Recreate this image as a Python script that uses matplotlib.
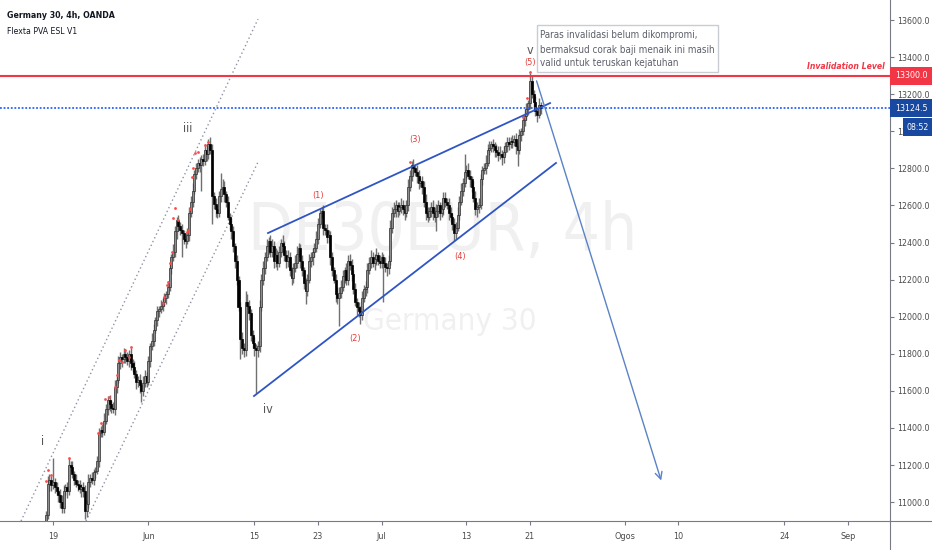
import os
import glob
import matplotlib
matplotlib.use('Agg')
import matplotlib.pyplot as plt
from matplotlib.patches import Rectangle
from matplotlib.lines import Line2D
import matplotlib.transforms as mtrans
from matplotlib import font_manager as fm

# ---------------- data ----------------
# 4h closes, 6 bars per trading day, starting with May 18 (day index -1)
closes = [
    10820, 10870, 10930, 11100, 11120, 11090,
    11110, 11080, 11060, 11040, 11000, 10970,
    11060, 11080, 11060, 11200, 11190, 11150,
    11120, 11100, 11090, 11070, 11080, 11060,
    10950, 10990, 11110, 11130, 11120, 11160,
    11170, 11220, 11370, 11390, 11380, 11440,
    11500, 11550, 11530, 11510, 11500, 11620,
    11660, 11750, 11780, 11770, 11800, 11780,
    11760, 11800, 11750, 11730, 11690, 11650,
    11660, 11630, 11600, 11640, 11680, 11650,
    11760, 11840, 11870, 11930, 11980, 12030,
    12040, 12060, 12080, 12100, 12120, 12160,
    12260, 12320, 12350, 12460, 12520, 12490,
    12470, 12450, 12420, 12410, 12440, 12560,
    12620, 12680, 12770, 12800, 12830, 12820,
    12850, 12840, 12900, 12880, 12930, 12900,
    12650, 12610, 12580, 12560, 12650, 12690,
    12700, 12660, 12620, 12540, 12500, 12460,
    12380, 12300, 12200, 12050, 11880, 11830,
    11820, 12080, 12060, 12020, 11900, 11860,
    11830, 11820, 11840, 12050, 12200, 12260,
    12320, 12380, 12410, 12350, 12380, 12300,
    12330, 12290, 12350, 12400, 12380, 12330,
    12300, 12320, 12250, 12210, 12260, 12290,
    12340, 12370, 12300, 12250, 12180, 12140,
    12200, 12300, 12320, 12350, 12370, 12420,
    12500, 12560, 12570, 12480, 12470, 12430,
    12440, 12320, 12250, 12200, 12120, 12100,
    12130, 12160, 12220, 12250, 12200, 12300,
    12280, 12230, 12150, 12080, 12050, 12030,
    12010, 12100, 12150, 12160, 12250, 12290,
    12320, 12290, 12310, 12330, 12300, 12290,
    12320, 12290, 12270, 12260, 12300, 12480,
    12560, 12580, 12600, 12570, 12590, 12600,
    12580, 12560, 12600, 12700, 12760, 12820,
    12800, 12780, 12760, 12720, 12730, 12700,
    12620, 12560, 12540, 12570, 12590, 12560,
    12540, 12570, 12600, 12560, 12580, 12640,
    12620, 12600, 12560, 12540, 12500, 12450,
    12480, 12550, 12620, 12680, 12720, 12780,
    12790, 12760, 12740, 12700, 12640, 12580,
    12590, 12600, 12740, 12790, 12800, 12830,
    12900, 12910, 12930, 12920, 12900, 12890,
    12870, 12880, 12860, 12890, 12920, 12940,
    12930, 12950, 12940, 12960, 12920, 12900,
    12980, 13000, 13060, 13080, 13120, 13150,
    13270, 13200, 13160, 13110, 13090, 13140,
    13124.5,
]
up_wick = [
    20, 30, 20, 40, 30, 20,   130, 20, 30, 20, 30, 40,
    30, 20, 30, 40, 20, 30,   20, 30, 20, 30, 20, 30,
    30, 20, 40, 20, 30, 20,   20, 30, 30, 20, 30, 40,
    30, 20, 30, 20, 30, 40,   20, 40, 30, 20, 30, 20,
    30, 20, 30, 20, 30, 20,   20, 30, 20, 40, 30, 20,
    30, 20, 40, 30, 20, 30,   20, 30, 20, 30, 20, 30,
    30, 20, 40, 30, 20, 30,   20, 30, 20, 30, 40, 30,
    30, 40, 20, 30, 20, 30,   20, 30, 30, 20, 30, 40,
    30, 20, 30, 20, 30, 85,   40, 30, 20, 30, 20, 30,
    30, 20, 30, 20, 30, 40,   30, 60, 40, 30, 20, 30,
    30, 20, 30, 40, 30, 40,   30, 40, 20, 30, 40, 30,
    40, 30, 30, 20, 40, 30,   30, 40, 30, 20, 30, 40,
    40, 30, 20, 30, 20, 30,   30, 40, 30, 20, 30, 40,
    30, 20, 20, 30, 20, 30,   30, 20, 30, 20, 30, 40,
    30, 40, 30, 20, 40, 30,   40, 30, 20, 30, 20, 30,
    30, 40, 20, 30, 40, 30,   40, 30, 30, 40, 20, 30,
    30, 20, 30, 20, 30, 40,   30, 40, 30, 20, 30, 40,
    30, 20, 30, 40, 30, 20,   30, 20, 40, 30, 20, 30,
    30, 40, 30, 20, 30, 40,   30, 40, 30, 20, 40, 30,
    30, 20, 40, 30, 20, 30,   30, 40, 30, 40, 30, 100,
    30, 40, 30, 20, 30, 40,   30, 40, 30, 20, 30, 40,
    30, 40, 20, 30, 20, 30,   30, 40, 20, 30, 20, 30,
    30, 20, 30, 20, 30, 20,   30, 20, 30, 40, 30, 20,
    45, 30, 20, 30, 20, 40,   20,
]
dn_wick = [
    30, 20, 30, 20, 40, 30,   20, 30, 20, 40, 30, 30,
    30, 20, 40, 20, 30, 20,   30, 20, 30, 20, 40, 30,
    40, 30, 20, 30, 20, 30,   30, 20, 30, 20, 30, 20,
    20, 30, 40, 30, 20, 30,   30, 20, 30, 40, 20, 30,
    20, 30, 40, 30, 20, 40,   30, 40, 60, 30, 20, 30,
    20, 30, 20, 30, 20, 30,   30, 20, 30, 20, 30, 20,
    20, 30, 20, 30, 40, 30,   30, 130, 30, 40, 20, 30,
    20, 30, 20, 30, 20, 40,   140, 30, 20, 40, 30, 20,
    150, 30, 40, 30, 20, 30,  30, 40, 30, 20, 30, 40,
    30, 40, 30, 20, 110, 30,  40, 30, 20, 40, 30, 30,
    40, 230, 40, 30, 20, 30,  30, 20, 40, 30, 30, 40,
    30, 40, 20, 30, 40, 30,   40, 30, 30, 40, 30, 20,
    30, 20, 40, 30, 30, 70,   30, 20, 30, 40, 30, 20,
    30, 20, 30, 40, 30, 30,   30, 40, 30, 20, 40, 30,
    150, 30, 20, 40, 30, 30,  30, 40, 30, 20, 40, 30,
    50, 30, 20, 40, 30, 20,   30, 20, 40, 30, 20, 30,
    30, 210, 30, 40, 30, 20,  30, 20, 40, 30, 20, 30,
    30, 40, 20, 30, 20, 30,   30, 20, 40, 30, 20, 40,
    30, 40, 30, 20, 30, 40,   30, 80, 30, 40, 20, 30,
    30, 20, 40, 30, 30, 40,   30, 20, 30, 20, 30, 20,
    30, 20, 40, 30, 20, 30,   40, 30, 20, 30, 20, 30,
    20, 30, 20, 30, 40, 30,   30, 20, 40, 30, 20, 30,
    30, 20, 30, 20, 40, 90,   20, 30, 20, 30, 20, 30,
    30, 20, 40, 30, 40, 20,   30,
]
first_open = 10780
first_day = -1
bars_per_day = 6

# indicator dots (trading-day position, price)
dot_day = [-0.69, -0.47, -0.19, 1.51, 4.25, 4.5, 4.88, 5.28, 5.85, 6.04, 6.2, 6.5,
           6.76, 7.14, 7.36, 10.38, 10.47, 10.75, 10.85, 11.04, 11.23, 11.32, 11.51,
           11.79, 12.61, 12.74, 12.92, 13.08, 13.21, 13.4, 13.68, 14.34, 14.62,
           33.68, 44.34, 44.72, 45.0]
dot_price = [11115, 11173, 11146, 11237, 11372, 11426, 11556, 11566, 11620, 11685,
             11766, 11755, 11820, 11782, 11836, 12073, 12106, 12170, 12187, 12289,
             12349, 12532, 12586, 12521, 12456, 12467, 12580, 12753, 12802, 12883,
             12888, 12926, 12942, 12834, 13077, 13179, 13319]

# x axis (trading-day index; 0 = 19 May)
tick_days = [0, 9, 19, 25, 31, 39, 45, 54, 59, 69, 75]
tick_labels = ['19', 'Jun', '15', '23', 'Jul', '13', '21', 'Ogos', '10', '24', 'Sep']
price_ticks = [11000, 11200, 11400, 11600, 11800, 12000, 12200, 12400, 12600,
               12800, 13000, 13200, 13400, 13600]

invalidation_level = 13300.0
last_price = 13124.5
countdown = '08:52'

# drawings: (day, price) endpoints
channel_upper = [(-3.02, 10898), (19.34, 13605)]
channel_lower = [(3.11, 10898), (19.34, 12834)]
wedge_upper = [(20.28, 12451), (46.89, 13152)]
wedge_lower = [(18.96, 11572), (47.45, 12829)]
forecast_arrow = [(45.54, 13286), (57.45, 11102)]

wave_main = [('i', -0.94, 11329), ('iii', 12.74, 13017), ('iv', 20.28, 11502), ('v', 45.0, 13438)]
wave_sub = [('(1)', 25.0, 12656), ('(2)', 28.49, 11885), ('(3)', 34.15, 12958),
            ('(4)', 38.4, 12325), ('(5)', 45.0, 13373)]

note_lines = ['Paras invalidasi belum dikompromi,',
              'bermaksud corak baji menaik ini masih',
              'valid untuk teruskan kejatuhan']

# ---------------- fonts (narrow face if available) ----------------
def _font_files():
    files = set(f.fname for f in fm.fontManager.ttflist)
    for d in ['/usr/share/fonts', '/usr/local/share/fonts']:
        files.update(glob.glob(os.path.join(d, '**', '*.ttf'), recursive=True))
        files.update(glob.glob(os.path.join(d, '**', '*.otf'), recursive=True))
    return {os.path.basename(f).lower(): f for f in files}

_FILES = _font_files()
_SETS = [
    ('NotoSans-ExtraCondensed.ttf', 'NotoSans-ExtraCondensedBold.ttf', 'NotoSans-ExtraCondensedBoldItalic.ttf'),
    ('NotoSans-Condensed.ttf', 'NotoSans-CondensedBold.ttf', 'NotoSans-CondensedBoldItalic.ttf'),
    ('LiberationSansNarrow-Regular.ttf', 'LiberationSansNarrow-Bold.ttf', 'LiberationSansNarrow-BoldItalic.ttf'),
    ('DejaVuSansCondensed.ttf', 'DejaVuSansCondensed-Bold.ttf', 'DejaVuSansCondensed-BoldOblique.ttf'),
    ('LiberationSans-Regular.ttf', 'LiberationSans-Bold.ttf', 'LiberationSans-BoldItalic.ttf'),
]
_CHOSEN = None
for s in _SETS:
    if s[0].lower() in _FILES:
        _CHOSEN = [_FILES.get(n.lower()) for n in s]
        break

def FP(kind, size):
    idx = {'reg': 0, 'bold': 1, 'bolditalic': 2}[kind]
    if _CHOSEN and _CHOSEN[idx]:
        return fm.FontProperties(fname=_CHOSEN[idx], size=size)
    if _CHOSEN and kind != 'reg':
        return fm.FontProperties(fname=_CHOSEN[0], size=size)
    return fm.FontProperties(family='DejaVu Sans', size=size,
                             weight='bold' if kind != 'reg' else 'normal',
                             style='italic' if kind == 'bolditalic' else 'normal')

# ---------------- figure ----------------
W, H = 932, 550
fig = plt.figure(figsize=(W / 100, H / 100), dpi=100)
fig.patch.set_facecolor('white')
ax = fig.add_axes([0, (H - 521) / H, 890 / W, 521 / H])
ax.set_facecolor('white')
ax.set_xlim(-5.0, 78.96)
ax.set_ylim(10898, 13708)

# watermark
ax.text(36.8, 12359, 'DE30EUR, 4h', fontproperties=FP('reg', 47), color='#f0f0f0',
        ha='center', va='baseline', zorder=0)
ax.text(37.4, 11928, 'Germany 30', fontproperties=FP('reg', 22.5), color='#f0f0f0',
        ha='center', va='baseline', zorder=0)

# candles
n = len(closes)
xs = [first_day + i / bars_per_day for i in range(n)]
opens = [first_open] + closes[:-1]
highs = [max(o, c) + u for o, c, u in zip(opens, closes, up_wick)]
lows = [min(o, c) - d for o, c, d in zip(opens, closes, dn_wick)]
bottoms = [min(o, c) for o, c in zip(opens, closes)]
heights = [max(abs(c - o), 8) for o, c in zip(opens, closes)]
faces = ['#8e8e8e' if c >= o else '#000000' for o, c in zip(opens, closes)]
edges = ['#2e2e2e' if c >= o else '#000000' for o, c in zip(opens, closes)]
ax.vlines(xs, lows, highs, colors='#707070', lw=1.0, zorder=3)
ax.bar(xs, heights, bottom=bottoms, width=0.19, color=faces, edgecolor=edges,
       lw=0.5, zorder=4)
ax.scatter(dot_day, dot_price, s=4, color='#ff4a4a', zorder=5, linewidths=0)

# channel lines (dotted)
for seg in (channel_upper, channel_lower):
    ax.plot([seg[0][0], seg[1][0]], [seg[0][1], seg[1][1]], color='#8d93a3',
            lw=1.0, ls=(0, (1, 2)), zorder=2)
# wedge
for seg in (wedge_upper, wedge_lower):
    ax.plot([seg[0][0], seg[1][0]], [seg[0][1], seg[1][1]], color='#2f55c4',
            lw=1.3, zorder=6)
# forecast arrow
ax.annotate('', xy=forecast_arrow[1], xytext=forecast_arrow[0],
            arrowprops=dict(arrowstyle='->,head_length=0.5,head_width=0.25',
                            color='#5a82c6', lw=1.0), zorder=6)

# horizontal lines
ax.axhline(invalidation_level, color='#f23645', lw=1.5, zorder=6)
ax.axhline(last_price, color='#2962ff', lw=1.3, ls=(0, (1, 1)), zorder=6)
ax.text(78.49, 13352, 'Invalidation Level', color='#f23645',
        fontproperties=FP('bolditalic', 6.2), ha='right', va='center', zorder=7)

# wave labels
for t, x, y in wave_main:
    ax.text(x, y, t, color='#555555', fontproperties=FP('reg', 9), ha='center',
            va='center', zorder=7)
for t, x, y in wave_sub:
    ax.text(x, y, t, color='#e53935', fontproperties=FP('reg', 6.5), ha='center',
            va='center', zorder=7)

# note box
ax.add_patch(Rectangle((45.66, 13319), 62.74 - 45.66, 13573 - 13319, facecolor='white',
                       edgecolor='#c9ccd3', lw=1.0, zorder=8))
for line, y in zip(note_lines, [13519, 13440, 13368]):
    ax.text(45.94, y, line, color='#5d606b', fontproperties=FP('reg', 7.1), ha='left',
            va='center', zorder=9)

# axes styling
for s in ('top', 'left'):
    ax.spines[s].set_visible(False)
for s in ('right', 'bottom'):
    ax.spines[s].set_color('#787b86')
    ax.spines[s].set_linewidth(0.8)
ax.yaxis.tick_right()
ax.set_yticks(price_ticks)
ax.set_yticklabels(['{:.1f}'.format(p) for p in price_ticks])
ax.set_xticks(tick_days)
ax.set_xticklabels(tick_labels)
ax.tick_params(axis='both', colors='#787b86', labelcolor='#4a4a4a',
               length=3, width=0.8, direction='out')
ax.tick_params(axis='y', pad=2.5)
ax.tick_params(axis='x', pad=5)
for lbl in ax.get_xticklabels():
    lbl.set_fontproperties(FP('reg', 6.5))
for lbl in ax.get_yticklabels():
    lbl.set_fontproperties(FP('reg', 6.3))

# axis lines continuing into the margins
fig.add_artist(Line2D([890 / W, 890 / W], [0, 29 / H], color='#787b86', lw=0.8))
fig.add_artist(Line2D([890 / W, 1], [29 / H, 29 / H], color='#787b86', lw=0.8))

# price boxes on the axis
blend = mtrans.blended_transform_factory(ax.transAxes, ax.transData)
px = 5.394  # price per pixel
def price_box(price, text, color, x0, x1):
    ax.add_patch(Rectangle((x0, price - 9 * px), x1 - x0, 18 * px, transform=blend,
                           facecolor=color, edgecolor='none', clip_on=False, zorder=10))
    ax.text((x0 + x1) / 2, price, text, transform=blend, color='white',
            fontproperties=FP('reg', 6.3), ha='center', va='center', clip_on=False, zorder=11)

price_box(invalidation_level, '{:.1f}'.format(invalidation_level), '#f23645', 1.0, W / 890)
price_box(last_price, '{:.1f}'.format(last_price), '#1848a0', 1.0, W / 890)
price_box(13023, countdown, '#1848a0', 903 / 890, W / 890)

# header
fig.text(7 / W, 1 - 15 / H, 'Germany 30, 4h, OANDA', fontproperties=FP('bold', 6.3),
         color='#131722', ha='left', va='center')
fig.text(7 / W, 1 - 32 / H, 'Flexta PVA ESL V1', fontproperties=FP('reg', 6.2),
         color='#131722', ha='left', va='center')

fig.savefig('out.png', dpi=100)
